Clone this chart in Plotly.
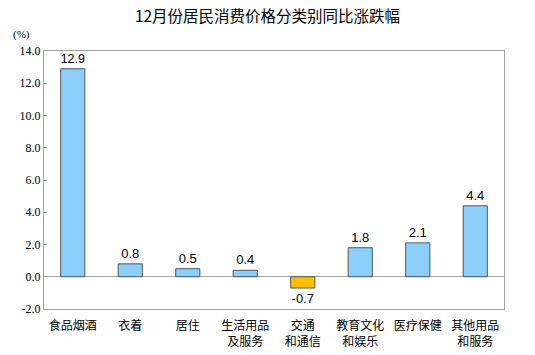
import plotly.graph_objects as go

categories = ["食品烟酒", "衣着", "居住", "生活用品<br>及服务", "交通<br>和通信", "教育文化<br>和娱乐", "医疗保健", "其他用品<br>和服务"]
values = [12.9, 0.8, 0.5, 0.4, -0.7, 1.8, 2.1, 4.4]
y_ticks = [-2.0, 0.0, 2.0, 4.0, 6.0, 8.0, 10.0, 12.0, 14.0]

colors = ["#FFC000" if v < 0 else "#8CCFFD" for v in values]
labels = [f"{v:.1f}" for v in values]

fig = go.Figure()
fig.add_trace(go.Bar(
    x=categories, y=values, width=0.42,
    marker=dict(color=colors, line=dict(color="#555555", width=1)),
    text=labels, textposition="outside", cliponaxis=False, textangle=0,
    textfont=dict(family="Liberation Sans, Arial", size=13, color="#000000"),
))

fig.update_layout(
    width=535, height=355,
    margin=dict(l=44, r=31, t=51, b=46, autoexpand=False),
    paper_bgcolor="white", plot_bgcolor="white",
    showlegend=False,
    title=dict(text="12月份居民消费价格分类别同比涨跌幅", x=0.5, xanchor="center", y=0.952, yanchor="middle",
               font=dict(family="Noto Sans CJK SC", size=15.5, color="#000000")),
    xaxis=dict(showline=True, linecolor="#A0A0A0", mirror=True, ticks="", ticklabelstandoff=6,
               tickfont=dict(family="Noto Sans CJK SC", size=12, color="#000000")),
    yaxis=dict(range=[-2, 14], tickvals=y_ticks, ticktext=[f"{t:.1f}" for t in y_ticks],
               showgrid=False, showline=True, linecolor="#A0A0A0", mirror=True,
               ticks="inside", ticklen=3, tickcolor="#A0A0A0",
               zeroline=True, zerolinecolor="#A0A0A0", zerolinewidth=1,
               tickfont=dict(family="Liberation Serif, Times New Roman", size=12, color="#000000")),
    annotations=[dict(text="(%)", xref="paper", yref="paper", x=-0.05, y=1.064,
                      xanchor="center", yanchor="middle", showarrow=False,
                      font=dict(family="Liberation Serif", size=11, color="#000000"))],
)
fig.write_html("out.html", config={"displayModeBar": False},
               post_script="document.body.style.margin='0';document.body.style.overflow='hidden';")
